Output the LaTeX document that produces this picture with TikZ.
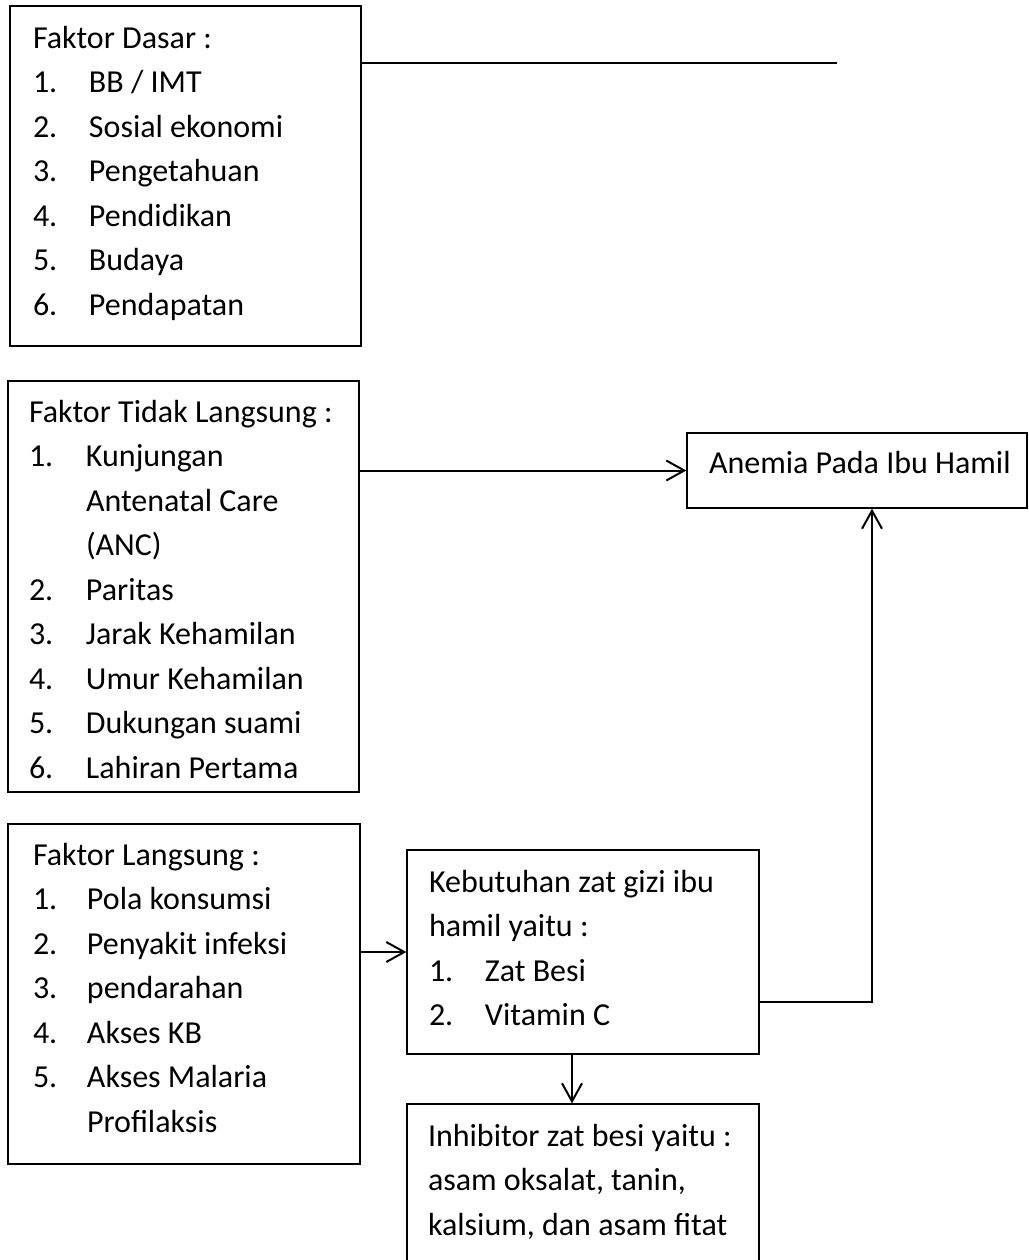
\documentclass[tikz,border=0pt]{standalone}
\usepackage{fontspec}
\setmainfont{Carlito}
\usetikzlibrary{arrows.meta,fit}

\begin{document}
\begin{tikzpicture}[x=0.5pt,y=-0.5pt,->,>={Straight Barb[length=9pt,width=10pt]},line width=1pt]
\tikzstyle{box}=[draw,rectangle,line width=0.65pt,inner sep=0pt]
\tikzstyle{txt}=[anchor=base west,inner sep=0pt,align=left,font=\fontsize{16}{22.25}\selectfont]

\useasboundingbox (0,0) rectangle (1029,1260);
\clip (0,0) rectangle (1029,1260);

% boxes
\node[box,fit={(10,6) (361,346)}]       (dasar)    {};
\node[box,fit={(8,381) (359,792)}]      (tidak)    {};
\node[box,fit={(8,824) (360,1164)}]     (langsung) {};
\node[box,fit={(687,433) (1027,508)}]   (anemia)   {};
\node[box,fit={(407,850) (759,1054)}]   (gizi)     {};
\node[box,fit={(407,1104) (759,1275)}]  (inhib)    {};

% texts
\node[txt] (dasartxt) at (32,48) {\begin{tabular}[t]{@{}p{28pt}@{}l@{}}
\multicolumn{2}{@{}l@{}}{Faktor Dasar :}\\
1. & BB / IMT\\
2. & Sosial ekonomi\\
3. & Pengetahuan\\
4. & Pendidikan\\
5. & Budaya\\
6. & Pendapatan
\end{tabular}};
\node[txt] (tidaktxt) at (28,422) {\begin{tabular}[t]{@{}p{28.5pt}@{}l@{}}
\multicolumn{2}{@{}l@{}}{Faktor Tidak Langsung :}\\
1. & Kunjungan\\
   & Antenatal Care\\
   & (ANC)\\
2. & Paritas\\
3. & Jarak Kehamilan\\
4. & Umur Kehamilan\\
5. & Dukungan suami\\
6. & Lahiran Pertama
\end{tabular}};
\node[txt] (langsungtxt) at (32,865) {\begin{tabular}[t]{@{}p{27pt}@{}l@{}}
\multicolumn{2}{@{}l@{}}{Faktor Langsung :}\\
1. & Pola konsumsi\\
2. & Penyakit infeksi\\
3. & pendarahan\\
4. & Akses KB\\
5. & Akses Malaria\\
   & Profilaksis
\end{tabular}};
\node[txt] (anemiatxt) at (708,473) {Anemia Pada Ibu Hamil};
\node[txt] (gizitxt) at (428,892) {\begin{tabular}[t]{@{}p{28pt}@{}l@{}}
\multicolumn{2}{@{}l@{}}{Kebutuhan zat gizi ibu}\\
\multicolumn{2}{@{}l@{}}{hamil yaitu :}\\
1. & Zat Besi\\
2. & Vitamin C
\end{tabular}};
\node[txt] (inhibtxt) at (427,1146) {\begin{tabular}[t]{@{}l@{}}
Inhibitor zat besi yaitu :\\
asam oksalat, tanin,\\
kalsium, dan asam fitat
\end{tabular}};

% connectors
\coordinate (lineend) at (837,63);
\coordinate (bend) at (872,1002);
\coordinate (down) at (572,0);
\draw[-] (dasar.east |- lineend) -- (lineend);
\draw (tidak.east |- anemia.west) -- (anemia.west);
\draw (langsung.east |- gizi.west) -- (gizi.west);
\draw (gizi.east |- bend) -- (bend) -- (anemia.south -| bend);
\draw (gizi.south -| down) -- (inhib.north -| down);
\end{tikzpicture}
\end{document}
